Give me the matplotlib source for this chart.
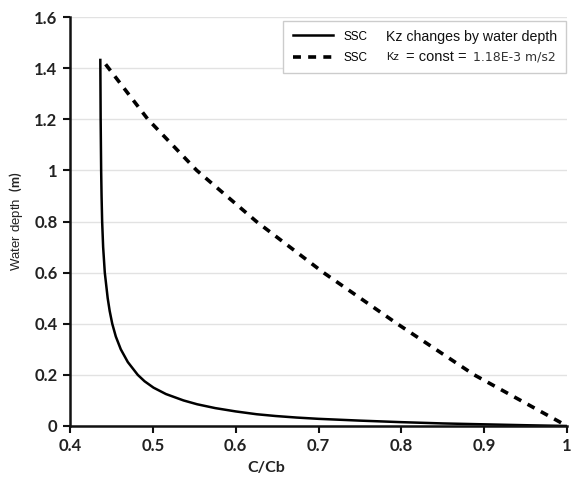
import numpy as np
import matplotlib
matplotlib.use("Agg")
import matplotlib.pyplot as plt
from matplotlib.ticker import FuncFormatter

# solid curve: Kz changes by water depth
ssc_var_c = [0.4366, 0.4370, 0.4376, 0.4381, 0.4388, 0.4400, 0.4420, 0.4455, 0.4479,
             0.4510, 0.4553, 0.4613, 0.4698, 0.4818, 0.4900, 0.5008, 0.5158, 0.5370,
             0.5535, 0.5753, 0.6000, 0.6253, 0.6484, 0.6736, 0.700, 0.750, 0.800,
             0.850, 0.900, 0.950, 1.0]
ssc_var_h = [1.432, 1.2, 1.0, 0.9, 0.8, 0.7, 0.6, 0.5, 0.45,
             0.40, 0.35, 0.30, 0.25, 0.20, 0.175, 0.15, 0.125, 0.10,
             0.085, 0.07, 0.057, 0.046, 0.039, 0.033, 0.028, 0.021, 0.015,
             0.010, 0.0065, 0.003, 0.0]

# dashed curve: Kz = const
ssc_const_c = [0.443, 0.494, 0.553, 0.625, 0.706, 0.795, 0.888, 1.0]
ssc_const_h = [1.415, 1.2, 1.0, 0.8, 0.6, 0.4, 0.2, 0.0]

x_ticks = [0.4, 0.5, 0.6, 0.7, 0.8, 0.9, 1.0]
y_ticks = [0, 0.2, 0.4, 0.6, 0.8, 1.0, 1.2, 1.4, 1.6]

plt.rcParams['font.family'] = ['Lato', 'DejaVu Sans']
plt.rcParams['mathtext.fontset'] = 'custom'
plt.rcParams['mathtext.rm'] = 'Liberation Sans'
plt.rcParams['mathtext.bf'] = 'Lato:bold'

fig = plt.figure(figsize=(5.71, 4.82), dpi=100)
ax = fig.add_axes([0.1226, 0.1162, 0.8704, 0.8485])

ax.plot(ssc_var_c, ssc_var_h, color='black', lw=1.8, solid_joinstyle='round', label='SSC')
ax.plot(ssc_const_c, ssc_const_h, color='black', lw=2.6, ls=(0, (2.2, 2.0)), label='SSC')

ax.set_xlim(0.4, 1.0)
ax.set_ylim(0, 1.6)
ax.set_xticks(x_ticks)
ax.set_yticks(y_ticks)
fmt = FuncFormatter(lambda v, p: ('%.1f' % v).rstrip('0').rstrip('.') if v else '0')
ax.xaxis.set_major_formatter(fmt)
ax.yaxis.set_major_formatter(fmt)

ax.yaxis.grid(True, color='#e2e2e2', lw=1.0)
ax.set_axisbelow(True)
for s in ['top', 'right']:
    ax.spines[s].set_visible(False)
for s in ['left', 'bottom']:
    ax.spines[s].set_linewidth(1.8)
    ax.spines[s].set_color('#111111')
ax.tick_params(length=5, width=1.5, color='#111111', labelsize=12, pad=4)
for lab in ax.get_xticklabels() + ax.get_yticklabels():
    lab.set_fontweight('bold')
    lab.set_color('#222222')

ax.set_xlabel('C/Cb', fontsize=11.5, fontweight='bold', color='#222222')
ax.xaxis.set_label_coords(0.395, -0.085)
ax.set_ylabel(r'Water depth  $\mathbf{(m)}$', fontsize=9.5, family='Liberation Sans', color='#222222')
ax.yaxis.set_label_coords(-0.09, 0.5)

leg = ax.legend(loc='upper left', bbox_to_anchor=(0.429, 0.868, 0.569, 0.122), mode='expand',
                borderaxespad=0, handlelength=3.4, handletextpad=0.9, labelspacing=0.8,
                borderpad=0.8, fancybox=False, edgecolor='#cccccc', framealpha=1,
                prop={'family': 'Liberation Sans', 'size': 8.5})
leg.get_frame().set_linewidth(1.0)

kw = dict(transform=ax.transAxes, va='center', zorder=10)
ax.text(0.635, 0.951, 'Kz changes by water depth', fontsize=10.2,
        family='Liberation Sans', color='#111111', **kw)
ax.text(0.637, 0.902, 'Kz', fontsize=8, family='Liberation Sans', color='#111111', **kw)
ax.text(0.676, 0.902, '= const =', fontsize=10.5, family='Liberation Sans', color='#111111', **kw)
ax.text(0.810, 0.902, '1.18E-3 m/s2', fontsize=9, family='DejaVu Sans', color='#333333', **kw)

fig.savefig('out.png', dpi=100)
